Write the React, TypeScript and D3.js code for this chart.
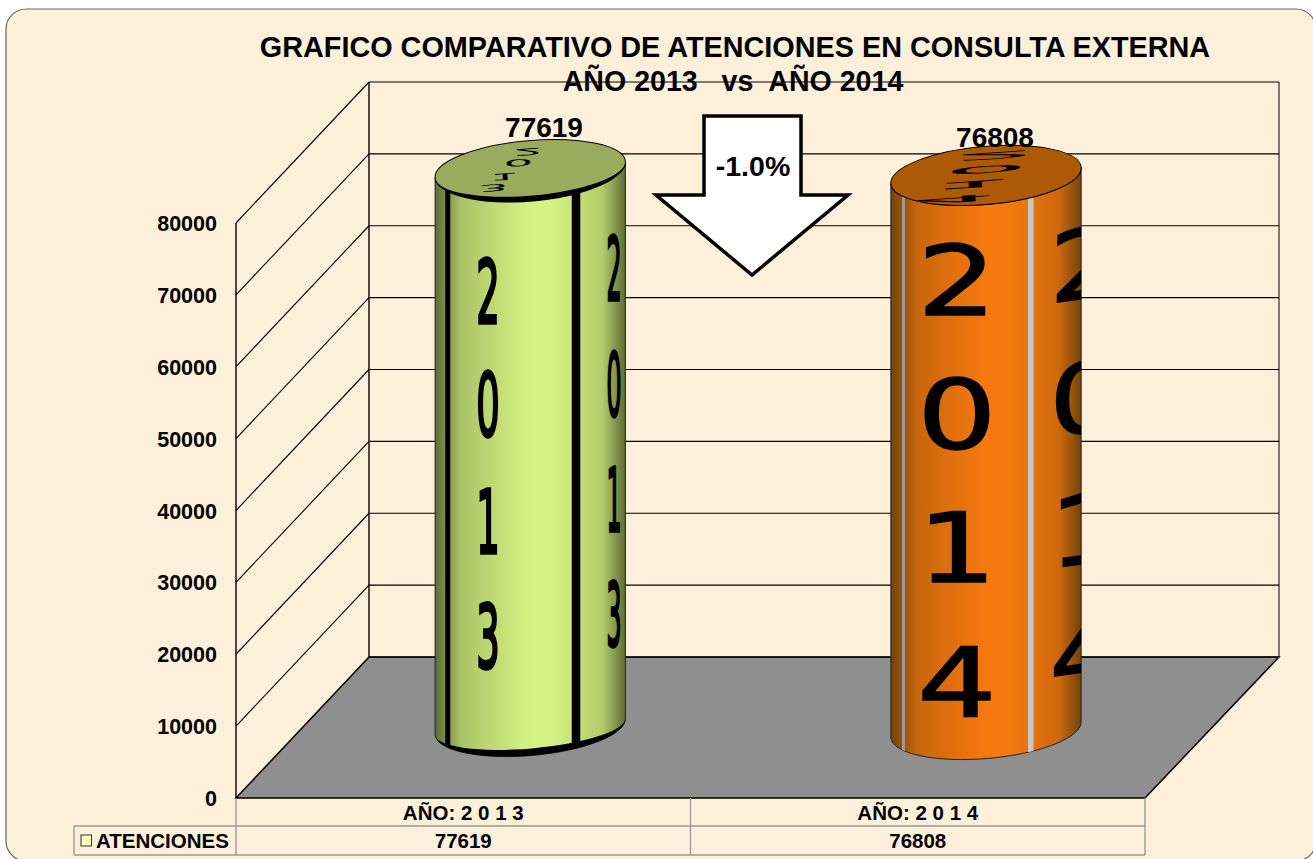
import React from "react";
import * as d3 from "d3";

const categories = ["AÑO: 2 0 1 3", "AÑO: 2 0 1 4"];
const seriesName = "ATENCIONES";
const values = [77619, 76808];
const yTicks = [0, 10000, 20000, 30000, 40000, 50000, 60000, 70000, 80000];
const digits = [["2", "0", "1", "3"], ["2", "0", "1", "4"]];
const title1 = "GRAFICO COMPARATIVO DE ATENCIONES EN CONSULTA EXTERNA";
const title2 = "AÑO 2013   vs  AÑO 2014";
const changeLabel = "-1.0%";

const W = 1313, H = 859;
const X0 = 236, X1 = 1145, DX = 134, DY = -141;
const y = d3.scaleLinear().domain([0, 80000]).range([798, 223]);
const x = d3.scaleBand<string>().domain(categories).range([X0, X1]);
const fontB = "'Liberation Sans', Arial, sans-serif";
const RX = 95.5, RY = 29, ROT = -5;
const fam = "'DejaVu Sans', sans-serif";

const themes = [
  { edge: "#5f6c35", mid: "#d5f383", top: "#9bab5e", stripe: ["#000", "#000"], sw: [5, 8.5], sx: [-85, 41.5], ox: 0, oy: 0, oyb: -1, lbl: [544, 137], arc: true,
    d: { c1: 488, c2: 614, sx1: 0.42, sx2: 0.27, fs: 88, sw: 3.5, skew: 0, ys: [323, 436, 553, 668], ys2: [300, 416, 531, 646], topP: [[-2, -18], [-12, -7], [-26, 7], [-37, 18]], tsx: 1.8, tsy: 0.36, tfs: 26 } },
  { edge: "#74430a", mid: "#f6790f", top: "#ad5a06", stripe: ["#999", "#c8c8c8"], sw: [3, 5.5], sx: [-84, 42], ox: 1.25, oy: 0, oyb: 2, lbl: [995, 147], arc: false,
    d: { c1: 957, c2: 1086, sx1: 1.3, sx2: 1.2, fs: 96, sw: 1.6, skew: -8, ys: [315, 449, 582, 717], ys2: [298, 432, 563, 688], topP: [[10, -20], [0, -6], [-13, 9], [-32, 24]], tsx: 4.5, tsy: 0.3, tfs: 30 } },
];

export default function App() {
  const t1 = DX / 2, t2 = DY / 2;
  return (
    <svg width={W} height={H} viewBox={`0 0 ${W} ${H}`} style={{ position: "absolute", left: 0, top: 0 }} fontFamily={fontB} fontWeight="bold">
      <defs>
        {themes.map((t, i) => (
          <linearGradient key={i} id={`g${i}`} x1="0" x2="1" y1="0" y2="0">
            <stop offset="0" stopColor={t.edge} />
            <stop offset="0.14" stopColor={d3.interpolateRgb(t.edge, t.mid)(0.65)} />
            <stop offset="0.5" stopColor={t.mid} />
            <stop offset="0.62" stopColor={t.mid} />
            <stop offset="0.88" stopColor={d3.interpolateRgb(t.edge, t.mid)(0.7)} />
            <stop offset="1" stopColor={t.edge} />
          </linearGradient>
        ))}
      </defs>
      <rect x={6} y={9} width={1310} height={852} rx={20} fill="#fdf0db" stroke="#666" strokeWidth={1.2} />

      <text x={735} y={57} textAnchor="middle" fontSize={28.8} fill="#000">{title1}</text>
      <text x={733} y={91} textAnchor="middle" fontSize={28.6} fill="#000" xmlSpace="preserve">{title2}</text>

      {/* floor */}
      <polygon points={`${X0},${y(0)} ${X1},${y(0)} ${X1 + DX},${y(0) + DY} ${X0 + DX - 1},${y(0) + DY}`} fill="#8f8f8f" stroke="#000" strokeWidth={1.5} />

      {/* walls */}
      {yTicks.map((v) => (
        <g key={v} stroke="#000" strokeWidth={1.1} fill="none">
          {v > 0 && <line x1={X0} y1={y(v)} x2={X0 + DX - 1} y2={y(v) + DY} />}
          <line x1={X0 + DX - 1} y1={y(v) + DY} x2={X1 + DX} y2={y(v) + DY} />
        </g>
      ))}
      <line x1={X0} y1={y(80000)} x2={X0} y2={y(0)} stroke="#000" strokeWidth={1.4} />
      <line x1={X0 + DX - 1} y1={y(80000) + DY} x2={X0 + DX - 1} y2={y(0) + DY} stroke="#000" strokeWidth={1.4} />
      <line x1={X1 + DX} y1={y(80000) + DY} x2={X1 + DX} y2={y(0) + DY} stroke="#000" strokeWidth={1} />

      {/* y axis */}
      {yTicks.map((v) => (
        <text key={v} x={217} y={y(v) + 8} textAnchor="end" fontSize={21.5} fill="#000">{v}</text>
      ))}

      {/* cylinders */}
      {categories.map((c, i) => {
        const th = themes[i];
        const cx = (x(c) as number) + x.bandwidth() / 2 + t1 + th.ox;
        const cyTop = y(values[i]) + t2 + th.oy;
        const cyBot = y(0) + t2 + th.oyb;
        const rad = (ROT * Math.PI) / 180;
        const ex = RX * Math.cos(rad), ey = RX * Math.sin(rad);
        const crescent = (cy: number, outer: number, inner: number) =>
          `M${cx - ex},${cy - ey} A${RX},${outer} ${ROT} 0 0 ${cx + ex},${cy + ey} A${RX},${inner} ${ROT} 0 1 ${cx - ex},${cy - ey} Z`;
        const body = `M${cx - ex},${cyTop - ey} L${cx - ex},${cyBot - ey} A${RX},${RY} ${ROT} 0 0 ${cx + ex},${cyBot + ey} L${cx + ex},${cyTop + ey} A${RX},${RY} ${ROT} 0 1 ${cx - ex},${cyTop - ey} Z`;
        const d = th.d;
        return (
          <g key={c}>
            <clipPath id={`clip${i}`}><path d={body} /></clipPath>
            <clipPath id={`clipTop${i}`}>
              <ellipse cx={cx} cy={cyTop} rx={RX} ry={RY} transform={`rotate(${ROT} ${cx} ${cyTop})`} />
            </clipPath>
            <path d={body} fill={`url(#g${i})`} stroke="#222" strokeWidth={1} />
            <g clipPath={`url(#clip${i})`}>
              {th.sx.map((s, k) => (
                <rect key={k} x={cx + s} y={cyTop - 10} width={th.sw[k]} height={cyBot - cyTop + 50} fill={th.stripe[k]} />
              ))}
              {digits[i].map((dg, k) => (
                <g key={k} fontFamily={fam} fontWeight="normal" fontSize={d.fs} fill="#000" stroke="#000" strokeWidth={d.sw} textAnchor="middle">
                  <text transform={`translate(${d.c1},${d.ys[k]}) scale(${d.sx1},1)`}>{dg}</text>
                  <text transform={`translate(${d.c2},${d.ys2[k]}) skewY(${d.skew}) scale(${d.sx2},1)`}>{dg}</text>
                </g>
              ))}
            </g>
            {th.arc && <path d={crescent(cyBot, RY, RY - 7)} fill="#000" />}
            <ellipse cx={cx} cy={cyTop} rx={RX} ry={RY} transform={`rotate(${ROT} ${cx} ${cyTop})`} fill={th.top} stroke="#000" strokeWidth={1} />
            {th.arc && <path d={crescent(cyTop, RY + 3, RY - 3)} fill="#000" />}
            <g clipPath={`url(#clipTop${i})`}>
              {digits[i].map((dg, k) => (
                <text key={k} transform={`translate(${cx + d.topP[k][0]},${cyTop + d.topP[k][1]}) rotate(-4) scale(${d.tsx},${-d.tsy})`} fontFamily={fam} fontWeight="normal" fontSize={d.tfs} textAnchor="middle" dominantBaseline="central" fill="#000">{dg}</text>
              ))}
            </g>
            <text x={th.lbl[0]} y={th.lbl[1]} textAnchor="middle" fontSize={28} fill="#000">{values[i]}</text>
          </g>
        );
      })}

      {/* arrow */}
      <polygon points="704,116 801,116 801,195 848,195 752,275 656,195 704,195" fill="#fff" stroke="#000" strokeWidth={3.5} />
      <text x={753} y={176} textAnchor="middle" fontSize={28.5} fill="#000">{changeLabel}</text>

      {/* data table */}
      <g stroke="#9a9a9a" strokeWidth={1.4} fill="none">
        <line x1={X0} y1={826} x2={X1} y2={826} />
        <line x1={74} y1={826} x2={X0} y2={826} />
        <line x1={74} y1={855} x2={X1} y2={855} />
        <line x1={74} y1={826} x2={74} y2={855} />
        <line x1={X0} y1={798} x2={X0} y2={855} />
        <line x1={X0 + x.bandwidth()} y1={798} x2={X0 + x.bandwidth()} y2={855} />
        <line x1={X1} y1={798} x2={X1} y2={855} />
      </g>
      <rect x={81} y={835} width={10.5} height={11} fill="#fdfdb8" stroke="#333" strokeWidth={1} />
      <text x={96} y={848} fontSize={20.5} fill="#000">{seriesName}</text>
      {categories.map((c, i) => (
        <g key={c} textAnchor="middle" fill="#000" fontSize={20.5}>
          <text x={(x(c) as number) + x.bandwidth() / 2} y={820}>{c}</text>
          <text x={(x(c) as number) + x.bandwidth() / 2} y={848}>{values[i]}</text>
        </g>
      ))}
    </svg>
  );
}
